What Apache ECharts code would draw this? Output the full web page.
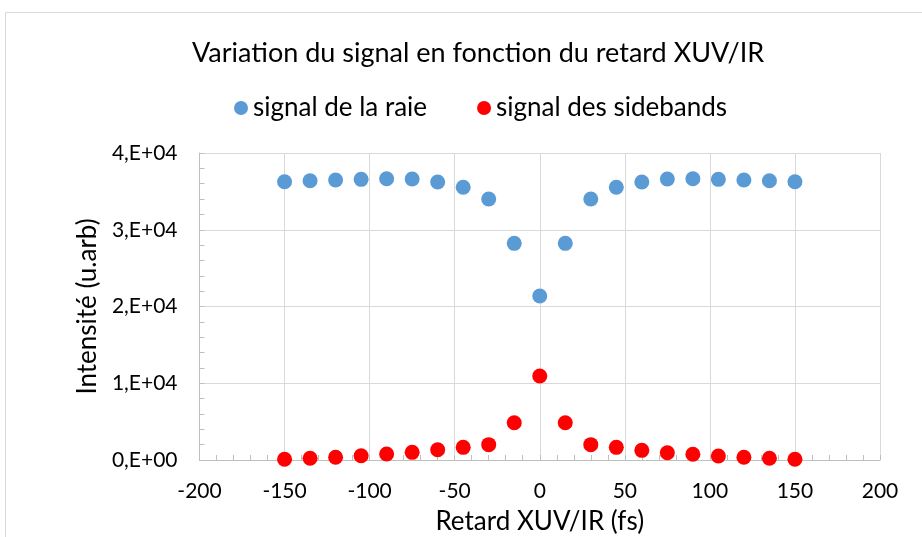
<!DOCTYPE html>
<html><head><meta charset="utf-8">
<script src="https://cdn.jsdelivr.net/npm/echarts@6/dist/echarts.min.js"></script>
<style>html,body{margin:0;padding:0;background:#fff}#c{width:922px;height:537px}</style>
</head><body><div id="c"></div>
<script>
const delays = [-150,-135,-120,-105,-90,-75,-60,-45,-30,-15,0,15,30,45,60,75,90,105,120,135,150];
const raie = [36260,36390,36480,36570,36650,36610,36220,35530,34000,28230,21370,28230,34000,35530,36220,36610,36650,36570,36480,36390,36260];
const sidebands = [100,220,350,560,780,1000,1340,1650,2000,4860,10940,4860,2000,1650,1260,950,740,520,350,220,100];
const seriesNames = ['signal de la raie','signal des sidebands'];
const FONT = 'Lato';
const chart = echarts.init(document.getElementById('c'));
const pairs = (ys) => delays.map((x,i)=>[x, ys[i]]);
chart.setOption({
  animation:false,
  textStyle:{fontFamily:FONT},
  title:{text:'Variation du signal en fonction du retard XUV/IR',left:187,top:35,
    textStyle:{fontFamily:FONT,fontSize:27,fontWeight:'normal',color:'#000'}},
  legend:{top:90,left:229,itemWidth:14,itemHeight:14,itemGap:50,icon:'circle',
    textStyle:{fontFamily:FONT,fontSize:26,color:'#000'},data:seriesNames},
  graphic:[{type:'rect',shape:{x:5.5,y:12.5,width:1000,height:1000},style:{fill:'none',stroke:'#d9d9d9',lineWidth:1},silent:true}],
  grid:{left:199.5,right:42,top:153,bottom:77,containLabel:false,outerBoundsMode:'none'},
  xAxis:{type:'value',min:-200,max:200,interval:50,
    name:'Retard XUV/IR (fs)',nameLocation:'middle',nameGap:49,
    nameTextStyle:{fontFamily:FONT,fontSize:26,color:'#000'},
    axisLine:{show:true,onZero:false,lineStyle:{color:'#bfbfbf'}},
    axisTick:{show:true,inside:true,length:5,lineStyle:{color:'#bfbfbf'}},
    minorTick:{show:true,splitNumber:5,length:5,lineStyle:{color:'#bfbfbf'}},
    axisLabel:{fontFamily:FONT,fontSize:21,color:'#000',margin:21},
    splitLine:{show:true,lineStyle:{color:'#d9d9d9'}}},
  yAxis:{type:'value',min:0,max:40000,interval:10000,
    name:'Intensité (u.arb)',nameLocation:'middle',nameGap:97,
    nameTextStyle:{fontFamily:FONT,fontSize:26,color:'#000'},
    axisLine:{show:true,onZero:false,lineStyle:{color:'#bfbfbf'}},
    axisTick:{show:true,inside:true,length:5,lineStyle:{color:'#bfbfbf'}},
    minorTick:{show:true,splitNumber:5,length:5,lineStyle:{color:'#bfbfbf'}},
    axisLabel:{fontFamily:FONT,fontSize:21,color:'#000',margin:22,
      formatter:(v)=> v===0 ? '0,E+00' : (v/10000)+',E+04'},
    splitLine:{show:true,lineStyle:{color:'#d9d9d9'}}},
  series:[
    {name:seriesNames[0],type:'scatter',symbolSize:15,itemStyle:{color:'#5b9bd5',opacity:1},data:pairs(raie)},
    {name:seriesNames[1],type:'scatter',symbolSize:15,itemStyle:{color:'#ff0000',opacity:1},data:pairs(sidebands)}
  ]
});
</script></body></html>
